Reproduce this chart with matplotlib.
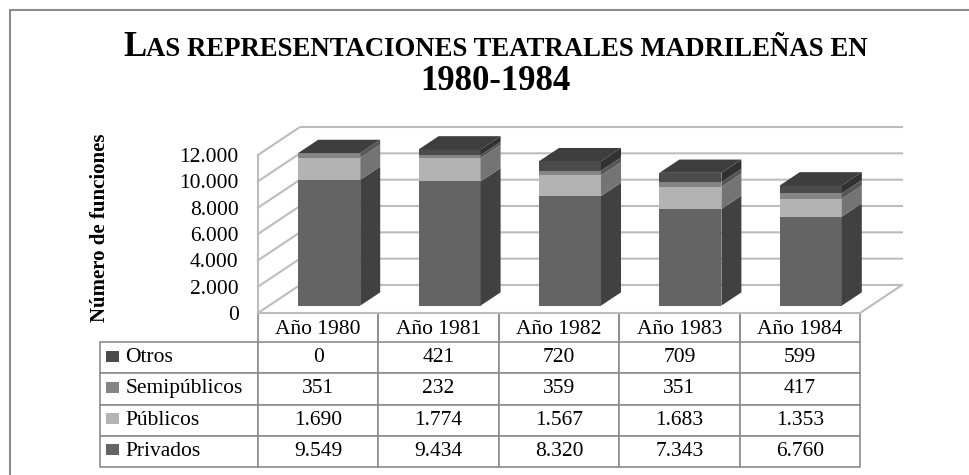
import matplotlib
matplotlib.use("Agg")
import matplotlib.pyplot as plt
from matplotlib.patches import Rectangle, Polygon
from matplotlib.table import Table
from matplotlib.offsetbox import TextArea, HPacker, AnchoredOffsetbox
from matplotlib.colors import to_rgb

plt.rcParams['font.family'] = ['Liberation Serif', 'DejaVu Serif']

# data
years = ["Año 1980", "Año 1981", "Año 1982", "Año 1983", "Año 1984"]
series = ["Privados", "Públicos", "Semipúblicos", "Otros"]
privados = [9549, 9434, 8320, 7343, 6760]
publicos = [1690, 1774, 1567, 1683, 1353]
semipublicos = [351, 232, 359, 351, 417]
otros = [0, 421, 720, 709, 599]
yticks = [0, 2000, 4000, 6000, 8000, 10000, 12000]

colors = {"Privados": "#646464", "Públicos": "#b3b3b3",
          "Semipúblicos": "#858585", "Otros": "#4b4b4b"}
top_color = "#3e3e3e"
grid_color = "#bdbdbd"
line_color = "#8c8c8c"


def shade(c, f):
    r, g, b = to_rgb(c)
    return (r * f, g * f, b * f)


def fmt(v):
    return f"{v:,}".replace(",", ".")


W, H = 970, 475
fig = plt.figure(figsize=(W / 100, H / 100), dpi=100)
# axes = front plane of the 3d box
ax_w_px, ax_h_px = 602, 158
ax = fig.add_axes([258 / W, (H - 313) / H, ax_w_px / W, ax_h_px / H])
ax.set_xlim(0, len(years))
ax.set_ylim(0, 12000)

px_x = ax_w_px / len(years)      # pixels per category
px_y = ax_h_px / 12000           # pixels per unit

# oblique depth of the walls and bars (in data units)
wall_dx, wall_dy = 42 / px_x, 28 / px_y
bar_dx, bar_dy = 20 / px_x, 13.3 / px_y
bar_w = 0.515
shift_x = (wall_dx - bar_dx) / 2
base = (wall_dy - bar_dy) / 2

n = len(years)
# walls + gridlines
for v in yticks:
    ax.plot([0, wall_dx, n + wall_dx], [v, v + wall_dy, v + wall_dy],
            color=grid_color, lw=1.5, clip_on=False, zorder=1)
ax.plot([0, 0], [0, yticks[-1]], color=grid_color, lw=1.5, clip_on=False, zorder=1)
ax.plot([0, n, n + wall_dx], [0, 0, wall_dy], color=grid_color, lw=1.5,
        clip_on=False, zorder=1)

# stacked 3d bars
stack = [privados, publicos, semipublicos, otros]
x0 = [i + (1 - bar_w) / 2 + shift_x for i in range(n)]
bottoms = [base] * n
for s, vals in zip(series, stack):
    c = colors[s]
    ax.bar(x0, vals, width=bar_w, bottom=bottoms, align='edge', color=c,
           edgecolor='none', clip_on=False, zorder=3)
    for i in range(n):
        if vals[i] == 0:
            continue
        x1 = x0[i] + bar_w
        b, t = bottoms[i], bottoms[i] + vals[i]
        ax.add_patch(Polygon([(x1, b), (x1 + bar_dx, b + bar_dy),
                              (x1 + bar_dx, t + bar_dy), (x1, t)],
                             facecolor=shade(c, 0.65), edgecolor='none',
                             clip_on=False, zorder=3))
    bottoms = [b + v for b, v in zip(bottoms, vals)]

for i in range(n):
    t = bottoms[i]
    ax.add_patch(Polygon([(x0[i], t), (x0[i] + bar_w, t),
                          (x0[i] + bar_w + bar_dx, t + bar_dy),
                          (x0[i] + bar_dx, t + bar_dy)],
                         facecolor=top_color, edgecolor='none',
                         clip_on=False, zorder=3))

# axis
for sp in ax.spines.values():
    sp.set_visible(False)
ax.set_xticks([])
ax.set_yticks(yticks, [fmt(v) for v in yticks])
ax.tick_params(axis='y', length=0, pad=14, labelsize=15.5)
ax.set_ylabel("Número de funciones", fontsize=15, fontweight='bold', va='center')
ax.yaxis.set_label_coords(-0.2625, 0.54)

# data table under the floor, row labels hang to the left
rows = series[::-1]
data = dict(zip(series, stack))
label_w = 158 / ax_w_px
head_h, row_h = 29 / ax_h_px, 31.25 / ax_h_px
tbl = Table(ax, loc='bottom')
for j, yr in enumerate(years):
    cell = tbl.add_cell(0, j, 1 / n, head_h, text=yr, loc='center')
    cell.visible_edges = 'LR'
    cell.get_text().set_va('center_baseline')
for k, s in enumerate(rows):
    cell = tbl.add_cell(k + 1, -1, label_w, row_h, text=s, loc='left')
    cell.PAD = 0.16
    for j in range(n):
        tbl.add_cell(k + 1, j, 1 / n, row_h, text=fmt(data[s][j]), loc='center')
tbl.auto_set_font_size(False)
tbl.set_fontsize(15.5)
for cell in tbl.get_celld().values():
    cell.set_edgecolor(line_color)
    cell.set_linewidth(1.2)
ax.add_table(tbl)

# legend keys inside the row label cells
for k, s in enumerate(rows):
    yc = -(head_h + row_h * k + row_h / 2) + 1.5 / ax_h_px
    ax.add_patch(Rectangle((-label_w + 6 / ax_w_px, yc - 5.5 / ax_h_px),
                           13 / ax_w_px, 11 / ax_h_px,
                           transform=ax.transAxes, facecolor=colors[s],
                           edgecolor='none', clip_on=False, zorder=5))

# title with small caps
big = dict(fontsize=25, fontweight='bold', color='black')
small = dict(fontsize=19.3, fontweight='bold', color='black')
line1 = HPacker(children=[TextArea("L", textprops=big),
                          TextArea("AS REPRESENTACIONES TEATRALES MADRILEÑAS EN",
                                   textprops=small)],
                align="baseline", pad=0, sep=0)
title_box = AnchoredOffsetbox(loc='center', child=line1, pad=0, borderpad=0,
                              frameon=False, bbox_to_anchor=(0.511, 1 - 47 / H),
                              bbox_transform=fig.transFigure)
fig.add_artist(title_box)
fig.text(0.511, 1 - 81 / H, "1980-1984", ha='center', va='center',
         fontsize=25, fontweight='bold')

# chart area border
fig.add_artist(Rectangle((10 / W, -0.1), 1.2, 1 - 10 / H + 0.1,
                         transform=fig.transFigure, fill=False,
                         edgecolor=line_color, lw=1.5))

fig.savefig("out.png", dpi=100, facecolor='white')
